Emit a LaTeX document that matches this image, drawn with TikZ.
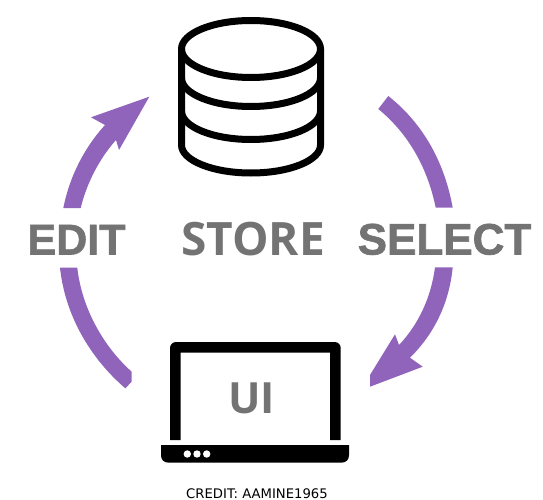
\documentclass[tikz,border=0pt]{standalone}
\usepackage{fontspec}
\setmainfont{Liberation Sans}[BoldFeatures={FakeBold=1.5}]
\newfontfamily\storefont{Open Sans}
\newfontfamily\creditfont{DejaVu Sans}
\definecolor{bandcolor}{HTML}{9164BC}
\definecolor{wordcolor}{HTML}{737373}
\tikzset{
  iconline/.style={draw=black,line width=7pt},
  word/.style={text=wordcolor,inner sep=0pt,anchor=base},
}
\begin{document}
\begin{tikzpicture}[x=1pt,y=-1pt]
\useasboundingbox (0,0) rectangle (543,500);
% database
\draw[iconline] (251,49) ellipse [x radius=69.5,y radius=28.5];
\draw[iconline] (181.5,49) -- (181.5,145) arc [start angle=180,end angle=360,x radius=69.5,y radius=-28] -- (320.5,49);
\draw[iconline] (181.5,78) arc [start angle=180,end angle=360,x radius=69.5,y radius=-28.5];
\draw[iconline] (181.5,111) arc [start angle=180,end angle=360,x radius=69.5,y radius=-28.5];

% laptop
\fill[black] (170,440) -- (170,348) arc [start angle=180,end angle=90,radius=6,y radius=-6] -- (334.7,342) arc [start angle=90,end angle=0,radius=6,y radius=-6] -- (340.7,440) -- (330,440) -- (330,352.7) -- (180.7,352.7) -- (180.7,440) -- cycle;
\fill[black] (161,445) -- (349,445) -- (349,455) .. controls (349,460) and (346,462.7) .. (341,462.7) -- (169,462.7) .. controls (164,462.7) and (161,460) .. (161,455) -- cycle;
\foreach \dotx in {187.3,197,206.7}
  \fill[white] (\dotx,454) circle (3.7);

% arrows
\fill[bandcolor] (388.3,96) .. controls (425,125) and (445,165) .. (452.7,207.7) -- (435.7,207.7) .. controls (428,170) and (410,135) .. (378.3,109) -- cycle;
\fill[bandcolor] (452.7,267.3) .. controls (449,305) and (433,335) .. (410,357.7) -- (422.7,366.7) -- (370,386.7) -- (370,375) -- (395,334.3) -- (399,345) .. controls (418,325) and (431,298) .. (435,267.3) -- cycle;
\fill[bandcolor] (63.3,208) .. controls (70,175) and (85,147) .. (105,125) -- (91,117.3) -- (149.3,96.7) -- (119,150) -- (116,140) .. controls (100,158) and (87,182) .. (80.7,208) -- cycle;
\fill[bandcolor] (60,267.7) .. controls (65,315) and (90,358) .. (125.3,388.3) -- (131.7,381.7) -- (131.7,371.7) .. controls (105,348) and (82,310) .. (77.3,267.7) -- cycle;

% words
\node[word,font=\fontsize{43pt}{43pt}\bfseries] (edit) at (76.5,254.5) {EDIT};
\node[word,font=\fontsize{46pt}{46pt}\storefont\bfseries] (store) at (253,255) {STORE};
\node[word,font=\fontsize{44pt}{44pt}\bfseries] (select) at (444.5,254.5) {SELECT};
\node[word,font=\fontsize{43pt}{44pt}\storefont\bfseries] (ui) at (251.5,413) {UI};
\node[anchor=base,inner sep=0pt,font=\fontsize{13.2pt}{13pt}\creditfont] (credit) at (257,498) {CREDIT: AAMINE1965};
\end{tikzpicture}
\end{document}
